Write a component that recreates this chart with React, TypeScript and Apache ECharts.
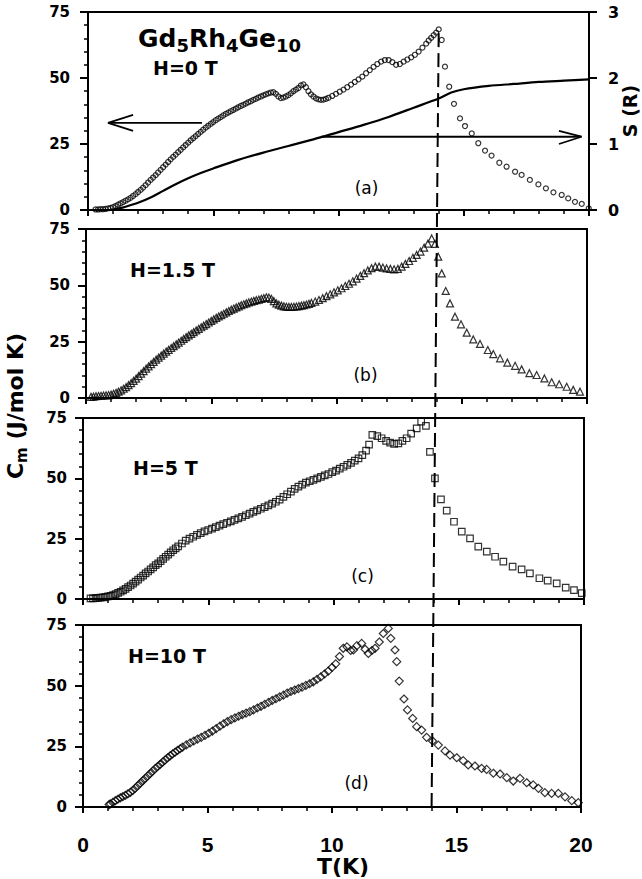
import React, { useEffect, useRef } from "react";
import * as echarts from "echarts";

// ---------- data (T in K, Cm in J/mol K) ----------
const h0Data: number[][] = [
  [0.3, 0.2], [0.4, 0.2], [0.5, 0.3], [0.6, 0.3], [0.7, 0.4], [0.8, 0.6], [0.9, 0.8], [1.0, 1.1],
  [1.1, 1.5], [1.2, 2.0], [1.3, 2.5], [1.4, 3.0], [1.5, 3.5], [1.6, 4.0], [1.7, 4.6], [1.8, 5.3],
  [1.9, 6.0], [2.0, 6.8], [2.1, 7.6], [2.2, 8.5], [2.3, 9.4], [2.4, 10.4], [2.5, 11.4], [2.6, 12.3],
  [2.7, 13.2], [2.8, 14.2], [2.9, 15.2], [3.0, 16.2], [3.1, 17.2], [3.2, 18.2], [3.3, 19.2], [3.4, 20.1],
  [3.5, 21.0], [3.6, 21.9], [3.7, 22.8], [3.8, 23.7], [3.9, 24.6], [4.0, 25.5], [4.1, 26.4], [4.2, 27.2],
  [4.3, 28.0], [4.4, 28.8], [4.5, 29.6], [4.6, 30.4], [4.7, 31.2], [4.8, 31.9], [4.9, 32.6], [5.0, 33.3],
  [5.1, 34.0], [5.2, 34.6], [5.3, 35.2], [5.4, 35.8], [5.5, 36.4], [5.6, 36.9], [5.7, 37.4], [5.8, 37.9],
  [5.9, 38.4], [6.0, 38.9], [6.1, 39.4], [6.2, 39.8], [6.3, 40.3], [6.4, 40.8], [6.5, 41.2], [6.6, 41.7],
  [6.7, 42.1], [6.8, 42.6], [6.9, 43.0], [7.0, 43.4], [7.1, 43.8], [7.2, 44.2], [7.3, 44.5], [7.4, 44.6],
  [7.5, 44.0], [7.6, 43.0], [7.7, 42.4], [7.8, 42.6], [7.9, 43.0], [8.0, 43.5], [8.1, 44.2], [8.2, 45.0],
  [8.3, 45.6], [8.4, 46.2], [8.5, 47.2], [8.6, 47.6], [8.7, 46.5], [8.8, 45.0], [8.9, 43.8], [9.0, 43.0],
  [9.1, 42.3], [9.2, 41.9], [9.3, 41.7], [9.4, 41.8], [9.5, 42.1], [9.6, 42.5], [9.75, 43.2], [9.9, 44.0],
  [10.05, 44.8], [10.2, 45.6], [10.35, 46.5], [10.5, 47.5], [10.65, 48.5], [10.8, 49.5], [10.95, 50.5],
  [11.1, 51.8], [11.25, 53.0], [11.4, 54.2], [11.55, 55.3], [11.7, 56.2], [11.85, 56.8], [12.0, 56.8],
  [12.15, 56.0], [12.3, 55.0], [12.45, 55.3], [12.6, 56.2], [12.75, 57.0], [12.9, 57.8], [13.05, 58.8],
  [13.2, 60.0], [13.35, 61.5], [13.5, 63.0], [13.6, 64.2], [13.7, 65.2], [13.8, 66.2], [13.9, 67.2],
  [14.0, 68.4], [14.12, 64.4], [14.25, 54.3], [14.42, 46.7], [14.61, 40.2], [14.85, 34.7], [15.05, 31.8],
  [15.32, 29.0], [15.58, 25.3], [15.85, 22.5], [16.11, 20.6], [16.42, 17.9], [16.71, 16.4], [17.05, 14.5],
  [17.31, 13.3], [17.64, 11.4], [17.98, 9.7], [18.28, 8.2], [18.58, 6.7], [18.91, 5.7], [19.17, 4.4],
  [19.44, 3.1], [19.71, 2.3], [19.99, 0.6],
];

const h15Data: number[][] = [
  [0.2, 0.5], [0.3, 0.6], [0.4, 0.8], [0.5, 0.9], [0.6, 1.0], [0.7, 1.1], [0.8, 1.2], [0.9, 1.3],
  [1.0, 1.5], [1.1, 1.9], [1.2, 2.3], [1.3, 2.8], [1.4, 3.4], [1.5, 4.1], [1.6, 4.8], [1.7, 5.7],
  [1.8, 6.6], [1.9, 7.6], [2.0, 8.6], [2.1, 9.7], [2.2, 10.8], [2.3, 11.9], [2.4, 13.0], [2.5, 14.0],
  [2.6, 15.0], [2.7, 16.0], [2.8, 17.0], [2.9, 17.9], [3.0, 18.8], [3.1, 19.7], [3.2, 20.6], [3.3, 21.4],
  [3.4, 22.2], [3.5, 23.0], [3.6, 23.8], [3.7, 24.6], [3.8, 25.4], [3.9, 26.2], [4.0, 27.0], [4.1, 27.8],
  [4.2, 28.5], [4.3, 29.2], [4.4, 30.0], [4.5, 30.7], [4.6, 31.4], [4.7, 32.1], [4.8, 32.8], [4.9, 33.5],
  [5.0, 34.2], [5.1, 34.9], [5.2, 35.6], [5.3, 36.2], [5.4, 36.8], [5.5, 37.4], [5.6, 38.0], [5.7, 38.6],
  [5.8, 39.2], [5.9, 39.7], [6.0, 40.2], [6.1, 40.7], [6.2, 41.2], [6.3, 41.6], [6.4, 42.0], [6.5, 42.4],
  [6.6, 42.8], [6.7, 43.1], [6.8, 43.4], [6.9, 43.7], [7.0, 44.0], [7.1, 44.3], [7.2, 44.7], [7.3, 44.6],
  [7.4, 44.0], [7.5, 43.0], [7.6, 42.0], [7.7, 41.4], [7.8, 41.0], [7.9, 40.7], [8.0, 40.5], [8.1, 40.4],
  [8.2, 40.4], [8.3, 40.5], [8.4, 40.6], [8.5, 40.8], [8.6, 41.0], [8.7, 41.2], [8.8, 41.5], [8.9, 41.8],
  [9.0, 42.2], [9.15, 42.8], [9.3, 43.5], [9.45, 44.3], [9.6, 45.2], [9.75, 46.0], [9.9, 46.9],
  [10.05, 47.8], [10.2, 48.7], [10.35, 49.7], [10.5, 50.7], [10.65, 51.8], [10.8, 53.0], [10.95, 54.2],
  [11.1, 55.4], [11.25, 56.6], [11.4, 57.6], [11.55, 58.3], [11.7, 58.3], [11.85, 57.9], [12.0, 57.5],
  [12.15, 57.3], [12.3, 57.1], [12.45, 57.3], [12.6, 58.3], [12.75, 59.5], [12.9, 60.8], [13.05, 62.2],
  [13.2, 63.5], [13.35, 65.0], [13.5, 66.7], [13.65, 68.5], [13.8, 70.8], [13.93, 68.4], [14.06, 62.7],
  [14.2, 55.3], [14.36, 47.5], [14.53, 42.0], [14.73, 36.1], [14.97, 32.7], [15.2, 29.0], [15.46, 26.0],
  [15.73, 24.0], [16.04, 21.3], [16.26, 19.5], [16.53, 17.6], [16.82, 15.7], [17.13, 14.3], [17.39, 12.7],
  [17.7, 11.0], [17.99, 10.2], [18.3, 8.7], [18.59, 7.0], [18.89, 6.1], [19.19, 5.0], [19.45, 3.6],
  [19.72, 2.8],
];

const h5Data: number[][] = [
  [0.3, 0.3], [0.4, 0.3], [0.5, 0.4], [0.6, 0.5], [0.7, 0.6], [0.8, 0.7], [0.9, 0.9], [1.0, 1.1],
  [1.1, 1.3], [1.2, 1.6], [1.3, 2.0], [1.4, 2.5], [1.5, 3.0], [1.6, 3.6], [1.7, 4.2], [1.8, 4.9],
  [1.9, 5.6], [2.0, 6.4], [2.1, 7.2], [2.2, 8.0], [2.3, 8.9], [2.4, 9.7], [2.5, 10.6], [2.6, 11.4],
  [2.7, 12.3], [2.8, 13.1], [2.9, 14.0], [3.0, 14.8], [3.1, 15.7], [3.2, 16.6], [3.3, 17.5], [3.4, 18.4],
  [3.5, 19.3], [3.6, 20.2], [3.7, 21.0], [3.8, 21.8], [3.95, 23.0], [4.1, 24.2], [4.25, 25.0],
  [4.4, 25.8], [4.55, 26.6], [4.7, 27.3], [4.85, 28.0], [5.0, 28.6], [5.15, 29.2], [5.3, 29.8],
  [5.45, 30.4], [5.6, 31.0], [5.75, 31.6], [5.9, 32.2], [6.05, 32.8], [6.2, 33.4], [6.35, 34.0],
  [6.5, 34.7], [6.65, 35.4], [6.8, 36.1], [6.95, 36.7], [7.1, 37.4], [7.25, 38.1], [7.4, 38.8],
  [7.55, 39.5], [7.7, 40.3], [7.85, 41.2], [8.0, 42.3], [8.15, 43.4], [8.3, 44.5], [8.45, 45.6],
  [8.6, 46.6], [8.75, 47.4], [8.9, 48.2], [9.05, 48.8], [9.2, 49.4], [9.35, 50.0], [9.5, 50.6],
  [9.65, 51.2], [9.8, 51.8], [9.95, 52.6], [10.1, 53.2], [10.25, 54.0], [10.4, 54.8], [10.55, 55.6],
  [10.7, 56.4], [10.85, 57.3], [11.0, 58.3], [11.15, 59.6], [11.3, 61.5], [11.42, 64.0], [11.55, 68.0],
  [11.75, 67.5], [11.92, 66.6], [12.1, 65.5], [12.26, 64.8], [12.42, 64.3], [12.59, 64.5], [12.75, 65.5],
  [12.92, 66.6], [13.1, 68.5], [13.32, 70.7], [13.5, 73.5], [13.69, 71.7], [13.85, 61.0], [14.05, 50.0],
  [14.29, 41.3], [14.52, 36.6], [14.81, 32.0], [15.12, 27.9], [15.45, 25.1], [15.78, 21.7], [16.12, 19.6],
  [16.45, 17.5], [16.78, 15.5], [17.15, 13.4], [17.51, 12.3], [17.84, 10.6], [18.22, 8.6], [18.55, 7.6],
  [18.91, 6.5], [19.27, 4.7], [19.6, 3.7], [19.91, 2.4],
];

const h10Data: number[][] = [
  [1.05, 1.0], [1.1, 1.3], [1.2, 1.9], [1.3, 2.6], [1.4, 3.2], [1.5, 3.8], [1.6, 4.3], [1.7, 4.8],
  [1.8, 5.4], [1.9, 6.0], [2.0, 6.8], [2.1, 7.8], [2.2, 8.8], [2.3, 9.8], [2.4, 10.8], [2.5, 11.8],
  [2.6, 12.8], [2.7, 13.8], [2.8, 14.8], [2.9, 15.8], [3.0, 16.7], [3.1, 17.6], [3.2, 18.5], [3.3, 19.4],
  [3.4, 20.3], [3.5, 21.1], [3.6, 21.9], [3.7, 22.6], [3.8, 23.3], [3.9, 24.0], [4.0, 24.7], [4.15, 25.6],
  [4.3, 26.4], [4.45, 27.2], [4.6, 28.0], [4.75, 28.7], [4.9, 29.5], [5.05, 30.4], [5.2, 31.3],
  [5.35, 32.3], [5.5, 33.3], [5.65, 34.3], [5.8, 35.2], [5.95, 36.0], [6.1, 36.7], [6.25, 37.4],
  [6.4, 38.1], [6.55, 38.7], [6.7, 39.3], [6.85, 40.0], [7.0, 40.8], [7.15, 41.5], [7.3, 42.3],
  [7.45, 43.1], [7.6, 43.9], [7.75, 44.6], [7.9, 45.4], [8.05, 46.1], [8.2, 46.9], [8.35, 47.6],
  [8.5, 48.2], [8.65, 48.8], [8.8, 49.4], [8.95, 50.1], [9.1, 50.8], [9.25, 51.6], [9.4, 52.6],
  [9.55, 53.6], [9.7, 54.8], [9.85, 56.0], [10.0, 57.5], [10.15, 59.0], [10.3, 62.0], [10.45, 65.4],
  [10.6, 66.0], [10.75, 64.5], [10.86, 64.7], [11.0, 66.5], [11.19, 67.4], [11.33, 65.0], [11.46, 63.3],
  [11.6, 64.5], [11.73, 65.4], [11.9, 68.0], [12.06, 71.5], [12.26, 73.6], [12.36, 69.5], [12.53, 64.7],
  [12.6, 59.9], [12.7, 51.9], [12.89, 44.5], [13.03, 40.0], [13.24, 36.5], [13.4, 33.1], [13.6, 31.7],
  [13.8, 28.7], [14.04, 27.2], [14.27, 25.5], [14.54, 23.1], [14.74, 21.4], [15.01, 20.3], [15.27, 19.1],
  [15.47, 17.3], [15.74, 16.9], [16.01, 15.9], [16.21, 15.5], [16.48, 13.9], [16.75, 13.6], [17.02, 12.1],
  [17.28, 10.7], [17.55, 11.8], [17.82, 10.0], [18.08, 9.1], [18.29, 7.7], [18.55, 5.9], [18.82, 5.6],
  [19.09, 5.6], [19.36, 4.2], [19.63, 2.6], [19.89, 1.8],
];

// entropy S (in units of R) for H = 0
const entropyData: number[][] = [
  [0.9, 0.0], [1.2, 0.02], [1.5, 0.05], [2.0, 0.11], [2.5, 0.19], [3.0, 0.29], [3.5, 0.39], [4.0, 0.48],
  [4.5, 0.56], [5.0, 0.63], [6.0, 0.76], [7.0, 0.87], [8.0, 0.97], [9.0, 1.07], [10.0, 1.18], [11.0, 1.29],
  [12.0, 1.41], [13.0, 1.55], [14.0, 1.69], [14.5, 1.78], [15.0, 1.83], [16.0, 1.88], [17.0, 1.91],
  [18.0, 1.94], [19.0, 1.96], [20.0, 1.98],
];

// arrows: left one points to the Cm axis, right one to the S axis
const leftArrowShaft: number[][] = [[4.55, 33], [0.8, 33]];
const leftArrowHead: number[][] = [[1.8, 36], [0.8, 33], [1.8, 30]];
const rightArrowShaft: number[][] = [[9.3, 1.11], [19.7, 1.11]];
const rightArrowHead: number[][] = [[18.8, 1.2], [19.7, 1.11], [18.8, 1.0]];

const transitionT = 14;
const transitionTopC = 67;

const fieldLabels = ["H=0 T", "H=1.5 T", "H=5 T", "H=10 T"];
const panelLetters = ["(a)", "(b)", "(c)", "(d)"];
const entropyAxisTitle = "S (R)";

const SANS = '"DejaVu Sans", sans-serif';
const ARIAL = '"Liberation Sans", Arial, sans-serif';

const gridBoxes = [
  { left: 88, top: 12, width: 501, height: 198 },
  { left: 86, top: 229, width: 501, height: 169 },
  { left: 83, top: 418, width: 501, height: 181 },
  { left: 83, top: 625, width: 498, height: 182 },
];
const yLabelMargins = [18, 16, 16, 16];
const fieldLabelPos = [
  [153, 67.5],
  [130, 270],
  [133, 468],
  [128, 656],
];
const letterPos = [
  [366.5, 188],
  [365.5, 375],
  [362.5, 576],
  [356.5, 783],
];

function measure(text: string, font: string): number {
  try {
    const ctx = document.createElement("canvas").getContext("2d");
    if (!ctx) return text.length * 12;
    ctx.font = font;
    return ctx.measureText(text).width;
  } catch (e) {
    return text.length * 12;
  }
}

// builds text pieces with subscripts, laid out left to right from x0
function subscriptTexts(
  parts: [string, boolean][],
  x0: number,
  yMain: number,
  mainSize: number,
  subSize: number,
  subShift: number
) {
  const els: any[] = [];
  let x = x0;
  parts.forEach(([t, sub]) => {
    const size = sub ? subSize : mainSize;
    els.push({
      type: "text",
      x,
      y: sub ? yMain + subShift : yMain,
      style: {
        text: t,
        fill: "#000",
        fontSize: size,
        fontWeight: "bold",
        fontFamily: SANS,
        align: "left",
        verticalAlign: "middle",
      },
    });
    x += measure(t, `bold ${size}px "DejaVu Sans"`);
  });
  return { els, width: x - x0 };
}

export default function App() {
  const ref = useRef<HTMLDivElement>(null);

  useEffect(() => {
    document.body.style.margin = "0";
    if (!ref.current) return;
    const chart = echarts.init(ref.current, undefined, { renderer: "svg" });

    const grid = gridBoxes.map((g) => ({
      ...g,
      show: true,
      containLabel: false,
      outerBoundsMode: "none",
      borderColor: "#000",
      borderWidth: 2,
      backgroundColor: "transparent",
    }));

    const xAxis = gridBoxes.map((_, i) => ({
      type: "value",
      gridIndex: i,
      min: 0,
      max: 20,
      interval: 5,
      axisLine: { show: true, onZero: false, lineStyle: { color: "#000", width: 2 } },
      axisTick: { show: true, inside: false, length: 6, lineStyle: { color: "#000", width: 2 } },
      minorTick: { show: true, splitNumber: 5, length: 4, lineStyle: { color: "#000", width: 1.5 } },
      splitLine: { show: false },
      axisLabel: {
        show: i === 3,
        margin: 27,
        color: "#000",
        fontFamily: ARIAL,
        fontWeight: "bold",
        fontSize: 21,
      },
      name: i === 3 ? "T(K)" : "",
      nameLocation: "middle",
      nameGap: 43,
      nameTextStyle: {
        color: "#000",
        fontFamily: SANS,
        fontWeight: "bold",
        fontSize: 22,
        padding: [0, 0, 0, 22],
      },
    }));

    const yAxis: any[] = gridBoxes.map((_, i) => ({
      type: "value",
      gridIndex: i,
      min: 0,
      max: 75,
      interval: 25,
      axisLine: { show: true, onZero: false, lineStyle: { color: "#000", width: 2 } },
      axisTick: { show: true, inside: false, length: 8, lineStyle: { color: "#000", width: 2 } },
      minorTick: { show: true, splitNumber: 5, length: 4, lineStyle: { color: "#000", width: 1.5 } },
      splitLine: { show: false },
      axisLabel: {
        margin: yLabelMargins[i],
        color: "#000",
        fontFamily: SANS,
        fontWeight: "bold",
        fontSize: 15,
      },
    }));
    yAxis.push({
      type: "value",
      gridIndex: 0,
      position: "right",
      min: 0,
      max: 3,
      interval: 1,
      axisLine: { show: true, onZero: false, lineStyle: { color: "#000", width: 2 } },
      axisTick: { show: true, inside: false, length: 8, lineStyle: { color: "#000", width: 2 } },
      minorTick: { show: false },
      splitLine: { show: false },
      axisLabel: {
        margin: 19,
        color: "#000",
        fontFamily: SANS,
        fontWeight: "bold",
        fontSize: 16,
      },
    });

    const markerStyle = { color: "rgba(255,255,255,0)", borderColor: "#000", borderWidth: 1.2 };
    const lineBase = {
      type: "line",
      showSymbol: false,
      symbol: "none",
      silent: true,
      z: 3,
    };

    const series: any[] = [
      {
        ...lineBase,
        name: "S",
        xAxisIndex: 0,
        yAxisIndex: 4,
        data: entropyData,
        smooth: 0.3,
        lineStyle: { color: "#000", width: 2.2 },
      },
      { ...lineBase, xAxisIndex: 0, yAxisIndex: 0, data: leftArrowShaft, lineStyle: { color: "#000", width: 1.8 } },
      { ...lineBase, xAxisIndex: 0, yAxisIndex: 0, data: leftArrowHead, lineStyle: { color: "#000", width: 1.8 } },
      { ...lineBase, xAxisIndex: 0, yAxisIndex: 4, data: rightArrowShaft, lineStyle: { color: "#000", width: 1.8 } },
      { ...lineBase, xAxisIndex: 0, yAxisIndex: 4, data: rightArrowHead, lineStyle: { color: "#000", width: 1.8 } },
      {
        type: "scatter",
        name: "H=0 T",
        xAxisIndex: 0,
        yAxisIndex: 0,
        data: h0Data,
        symbol: "circle",
        symbolSize: 5,
        itemStyle: markerStyle,
        z: 4,
      },
      {
        type: "scatter",
        name: "H=1.5 T",
        xAxisIndex: 1,
        yAxisIndex: 1,
        data: h15Data,
        symbol: "triangle",
        symbolSize: 7,
        itemStyle: markerStyle,
        z: 4,
      },
      {
        type: "scatter",
        name: "H=5 T",
        xAxisIndex: 2,
        yAxisIndex: 2,
        data: h5Data,
        symbol: "rect",
        symbolSize: 6.5,
        itemStyle: markerStyle,
        z: 4,
      },
      {
        type: "scatter",
        name: "H=10 T",
        xAxisIndex: 3,
        yAxisIndex: 3,
        data: h10Data,
        symbol: "diamond",
        symbolSize: 8,
        itemStyle: markerStyle,
        z: 4,
      },
    ];

    chart.setOption({
      animation: false,
      backgroundColor: "#fff",
      grid,
      xAxis,
      yAxis,
      series,
    });

    // texts
    const graphics: any[] = [];
    const title = subscriptTexts(
      [["Gd", false], ["5", true], ["Rh", false], ["4", true], ["Ge", false], ["10", true]],
      138,
      38,
      25,
      18,
      7.4
    );
    graphics.push(...title.els);

    fieldLabels.forEach((t, i) => {
      graphics.push({
        type: "text",
        x: fieldLabelPos[i][0],
        y: fieldLabelPos[i][1],
        style: {
          text: t,
          fill: "#000",
          fontSize: 19,
          fontWeight: "bold",
          fontFamily: SANS,
          align: "left",
          verticalAlign: "middle",
        },
      });
    });
    panelLetters.forEach((t, i) => {
      graphics.push({
        type: "text",
        x: letterPos[i][0],
        y: letterPos[i][1],
        style: {
          text: t,
          fill: "#000",
          fontSize: 17,
          fontFamily: SANS,
          align: "center",
          verticalAlign: "middle",
        },
      });
    });

    // y axis title, rotated, with subscript
    const yt = subscriptTexts(
      [["C", false], ["m", true], [" (J/mol K)", false]],
      0,
      0,
      22,
      15,
      6.4
    );
    yt.els.forEach((e) => (e.x -= yt.width / 2));
    graphics.push({
      type: "group",
      x: 15.4,
      y: 406,
      rotation: Math.PI / 2,
      children: yt.els,
    });

    // right axis title (entropy), rotated
    const g0 = gridBoxes[0];
    graphics.push({
      type: "text",
      x: 630,
      y: g0.top + g0.height / 2,
      rotation: Math.PI / 2,
      style: {
        text: entropyAxisTitle,
        fill: "#000",
        fontSize: 19,
        fontWeight: "bold",
        fontFamily: SANS,
        align: "center",
        verticalAlign: "middle",
      },
    });

    // dashed vertical line at the transition, through all four panels
    const pTop = chart.convertToPixel({ xAxisIndex: 0, yAxisIndex: 0 } as any, [transitionT, transitionTopC]) as number[];
    const pBot = chart.convertToPixel({ xAxisIndex: 3, yAxisIndex: 3 } as any, [transitionT, 0]) as number[];
    if (pTop && pBot) {
      graphics.push({
        type: "line",
        shape: { x1: pTop[0], y1: pTop[1], x2: pBot[0], y2: pBot[1] },
        style: { stroke: "#000", lineWidth: 2, lineDash: [14, 6] },
        z: 2,
        silent: true,
      });
    }

    chart.setOption({ graphic: graphics });

    return () => {
      chart.dispose();
    };
  }, []);

  return <div ref={ref} style={{ width: 642, height: 879 }} />;
}
